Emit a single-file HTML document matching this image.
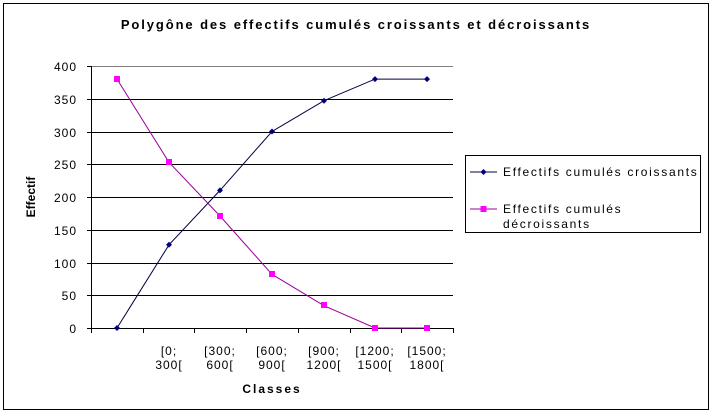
<!DOCTYPE html>
<html><head><meta charset="utf-8"><style>
body{margin:0;background:#fff}
svg{display:block;font-family:"Liberation Sans",Arial,sans-serif}
</style></head><body>
<svg width="713" height="415" viewBox="0 0 713 415">
<rect x="0" y="0" width="713" height="415" fill="#fff"/>
<rect x="3.5" y="3.5" width="705" height="406" fill="none" stroke="#000"/>
<text x="356" y="29" text-anchor="middle" font-size="13" font-weight="bold" letter-spacing="1.9">Polygône des effectifs cumulés croissants et décroissants</text>
<g stroke="#000" stroke-width="1">
<line x1="91" y1="66.5" x2="453" y2="66.5" stroke="#808080"/>
<line x1="91" y1="99.5" x2="453" y2="99.5"/>
<line x1="91" y1="132.5" x2="453" y2="132.5"/>
<line x1="91" y1="164.5" x2="453" y2="164.5"/>
<line x1="91" y1="197.5" x2="453" y2="197.5"/>
<line x1="91" y1="230.5" x2="453" y2="230.5"/>
<line x1="91" y1="263.5" x2="453" y2="263.5"/>
<line x1="91" y1="295.5" x2="453" y2="295.5"/>
<line x1="91" y1="328.5" x2="453" y2="328.5"/>
<line x1="91.5" y1="66" x2="91.5" y2="328"/>
<line x1="87" y1="66.5" x2="91" y2="66.5"/><line x1="87" y1="99.5" x2="91" y2="99.5"/><line x1="87" y1="132.5" x2="91" y2="132.5"/><line x1="87" y1="164.5" x2="91" y2="164.5"/><line x1="87" y1="197.5" x2="91" y2="197.5"/><line x1="87" y1="230.5" x2="91" y2="230.5"/><line x1="87" y1="263.5" x2="91" y2="263.5"/><line x1="87" y1="295.5" x2="91" y2="295.5"/><line x1="87" y1="328.5" x2="91" y2="328.5"/>
<line x1="91.5" y1="328" x2="91.5" y2="333"/><line x1="143.5" y1="328" x2="143.5" y2="333"/><line x1="194.5" y1="328" x2="194.5" y2="333"/><line x1="246.5" y1="328" x2="246.5" y2="333"/><line x1="298.5" y1="328" x2="298.5" y2="333"/><line x1="350.5" y1="328" x2="350.5" y2="333"/><line x1="401.5" y1="328" x2="401.5" y2="333"/><line x1="453.5" y1="328" x2="453.5" y2="333"/>
</g>
<g font-size="12" text-anchor="end" letter-spacing="1">
<text x="77" y="71">400</text><text x="77" y="104">350</text><text x="77" y="137">300</text><text x="77" y="169">250</text><text x="77" y="202">200</text><text x="77" y="235">150</text><text x="77" y="268">100</text><text x="77" y="300">50</text><text x="77" y="333">0</text>
</g>
<text transform="translate(35,197) rotate(-90)" text-anchor="middle" font-size="12" font-weight="bold">Effectif</text>
<g font-size="12" text-anchor="middle" letter-spacing="1">
<text x="169" y="355">[0;</text><text x="169" y="369">300[</text>
<text x="220" y="355">[300;</text><text x="220" y="369">600[</text>
<text x="272" y="355">[600;</text><text x="272" y="369">900[</text>
<text x="324" y="355">[900;</text><text x="324" y="369">1200[</text>
<text x="375" y="355">[1200;</text><text x="375" y="369">1500[</text>
<text x="427" y="355">[1500;</text><text x="427" y="369">1800[</text>
</g>
<text x="272" y="393" text-anchor="middle" font-size="12" font-weight="bold" letter-spacing="2">Classes</text>
<polyline fill="none" stroke="#000040" points="117,328 169,244.8 220,190.4 272,131.5 324,100.7 375,79.1 427,79.1"/>
<polyline fill="none" stroke="#990099" points="117,79.1 169,162.3 220,216 272,274.3 324,305.7 375,328 427,328"/>
<g fill="#000080">
<path d="M117 325l3 3-3 3-3-3z"/><path d="M169 241.8l3 3-3 3-3-3z"/><path d="M220 187.4l3 3-3 3-3-3z"/><path d="M272 128.5l3 3-3 3-3-3z"/><path d="M324 97.7l3 3-3 3-3-3z"/><path d="M375 76.1l3 3-3 3-3-3z"/><path d="M427 76.1l3 3-3 3-3-3z"/>
</g>
<g fill="#ff00ff">
<rect x="114" y="76" width="6" height="6"/><rect x="166" y="159" width="6" height="6"/><rect x="217" y="213" width="6" height="6"/><rect x="269" y="271" width="6" height="6"/><rect x="321" y="302" width="6" height="6"/><rect x="372" y="325" width="6" height="6"/><rect x="424" y="325" width="6" height="6"/>
</g>
<rect x="465.5" y="155.5" width="235" height="77" fill="#fff" stroke="#000"/>
<line x1="470" y1="172" x2="497" y2="172" stroke="#000040"/>
<path d="M483.5 169l3 3-3 3-3-3z" fill="#000080"/>
<line x1="470" y1="209" x2="497" y2="209" stroke="#990099"/>
<rect x="480.5" y="206" width="6" height="6" fill="#ff00ff"/>
<g font-size="12" letter-spacing="1.7">
<text x="503" y="176">Effectifs cumulés croissants</text>
<text x="503" y="213">Effectifs cumulés</text>
<text x="503" y="228">décroissants</text>
</g>
</svg>
</body></html>
